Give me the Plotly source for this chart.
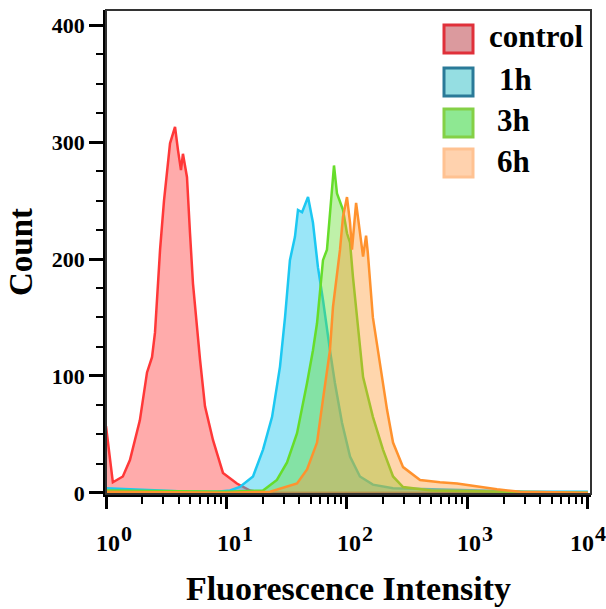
import math
import plotly.graph_objects as go

# ---------------- data ----------------
series_names = ["control", "1h", "3h", "6h"]

control_x = [1.0, 1.14, 1.38, 1.58, 1.91, 2.19, 2.41, 2.55, 2.81, 3.03, 3.40, 3.74, 3.96, 4.19,
             4.35, 4.70, 4.98, 5.27, 6.03, 6.63, 7.73, 9.35, 12.2, 15.7, 20, 50, 100, 1000, 10000]
control_y = [57, 9, 14, 28, 62, 103, 116, 137, 208, 250, 299, 313, 293, 276,
             290, 270, 222, 179, 114, 74, 45, 17, 8, 2, 0, 0, 0, 0, 0]

h1_x = [1, 5, 8.3, 10.7, 12.9, 16.6, 20.1, 23.9, 27.8, 30.6, 33.6, 37.0, 39.2, 42.4, 47.5,
        52.2, 57.4, 63.2, 72.2, 79.4, 90.9, 106, 128, 164, 241, 500, 1000, 3000, 10000]
h1_y = [4, 1, 1, 2, 5, 14, 37, 65, 108, 150, 199, 219, 242, 240, 253,
        231, 193, 165, 122, 94, 60, 31, 14, 7, 4, 3, 2, 1, 1]

h3_x = [1, 10, 20.1, 26.2, 31.8, 38.5, 46.6, 52.2, 56.4, 59.7, 63.2, 68.2, 72.2, 78.0, 82.6,
        87.5, 92.6, 100, 106, 112, 121, 136, 164, 199, 241, 292, 500, 2000, 10000]
h3_y = [2, 1, 2, 11, 26, 51, 94, 122, 145, 173, 199, 208, 236, 280, 256,
        248, 242, 222, 214, 185, 150, 99, 65, 37, 14, 5, 2, 1, 0]

h6_x = [1, 10, 23.0, 38.5, 46.6, 56.4, 63.2, 72.2, 76.5, 82.6, 87.5, 92.6, 100, 106, 110, 119,
        128, 136, 144, 149, 164, 188, 215, 241, 292, 404, 591, 819, 1270, 1757, 2728, 10000]
h6_y = [1, 0, 1, 8, 20, 43, 80, 122, 159, 185, 208, 236, 253, 231, 208, 248,
        225, 202, 220, 205, 150, 108, 71, 43, 22, 11, 9, 8, 5, 3, 1, 0]

x_tick_values = [1, 10, 100, 1000, 10000]
x_tick_base = ["10", "10", "10", "10", "10"]
x_tick_exponents = ["0", "1", "2", "3", "4"]
y_tick_values = [0, 100, 200, 300, 400]
y_tick_labels = ["0", "100", "200", "300", "400"]

# ---------------- styles ----------------
line_colors = ["#FF3838", "#1CC8F2", "#66DD2A", "#FF922E"]
fill_colors = ["rgba(255,80,80,0.48)", "rgba(30,200,240,0.45)",
               "rgba(102,221,51,0.42)", "rgba(255,153,51,0.40)"]
legend_fill = ["#DB9A9E", "#95DEE2", "#8EE892", "#FFD2AE"]
legend_line = ["#E0303A", "#2A7A98", "#84D046", "#FFC292"]

FONT = "Liberation Serif, Times New Roman, serif"

fig = go.Figure()
xs = [control_x, h1_x, h3_x, h6_x]
ys = [control_y, h1_y, h3_y, h6_y]
for name, x, y, lc, fc in zip(series_names, xs, ys, line_colors, fill_colors):
    fig.add_trace(go.Scatter(x=x, y=y, mode="lines", name=name, fill="tozeroy",
                             fillcolor=fc, line=dict(color=lc, width=2.5),
                             showlegend=False))

minor_x = [m * 10 ** k for k in range(4) for m in range(2, 10)]

fig.update_xaxes(type="log", range=[0, 4.025], automargin=False,
                 tickmode="array", tickvals=x_tick_values, showticklabels=False,
                 ticks="outside", ticklen=12, tickwidth=2.5, tickcolor="black",
                 minor=dict(tickmode="array", tickvals=minor_x, ticks="outside",
                            ticklen=7, tickwidth=2, tickcolor="black"),
                 showline=True, linecolor="black", linewidth=2.5,
                 showgrid=False, zeroline=False,
                 title=dict(text="<b>Fluorescence Intensity</b>",
                            font=dict(family=FONT, size=34, color="black"), standoff=69))

fig.update_yaxes(range=[-1, 413], automargin=False,
                 tickmode="array", tickvals=y_tick_values, ticktext=y_tick_labels,
                 ticks="outside", ticklen=14, tickwidth=2.5, tickcolor="black",
                 minor=dict(dtick=25, tick0=0, ticks="outside", ticklen=7,
                            tickwidth=2, tickcolor="black"),
                 showline=True, linecolor="black", linewidth=2.5,
                 showgrid=False, zeroline=False,
                 tickfont=dict(family=FONT, size=22, color="black", weight="bold"),
                 ticklabelstandoff=0,
                 title=dict(text="<b>Count</b>",
                            font=dict(family=FONT, size=33, color="black"), standoff=10))

# frame
shapes = [dict(type="rect", xref="paper", yref="paper", x0=0, y0=0, x1=1, y1=1,
               line=dict(color="#333333", width=2), layer="above")]
annotations = []

W, H, L, B = 485.0, 484.0, 106.0, 494.0

# x tick labels written as 10 with a raised exponent
label_shift = [2, 2, 2, 2, -6]
for v, base, e, s in zip(x_tick_values, x_tick_base, x_tick_exponents, label_shift):
    annotations.append(dict(xref="x", yref="paper", x=math.log10(v), y=(B - 543) / H,
                            xanchor="center", yanchor="middle", xshift=s, showarrow=False,
                            text="<b>%s</b>" % base,
                            font=dict(family=FONT, size=24, color="black")))
    annotations.append(dict(xref="x", yref="paper", x=math.log10(v), y=(B - 533) / H,
                            xanchor="left", yanchor="middle", xshift=s + 11, showarrow=False,
                            text="<b>%s</b>" % e,
                            font=dict(family=FONT, size=22, color="black")))

# manual legend (paper coords)
box_tops = [25, 68, 109, 149]
text_left = [487, 497, 495, 495]
for name, top, tl, fcol, lcol in zip(series_names, box_tops, text_left, legend_fill, legend_line):
    x0 = (444 - L) / W
    x1 = (473 - L) / W
    y1 = (B - top) / H
    y0 = (B - top - 28) / H
    shapes.append(dict(type="rect", xref="paper", yref="paper", x0=x0, x1=x1, y0=y0, y1=y1,
                       fillcolor=fcol, line=dict(color=lcol, width=3), layer="above"))
    annotations.append(dict(xref="paper", yref="paper", x=(tl - L) / W, y=(B - top - 12) / H,
                            xanchor="left", yanchor="middle", showarrow=False,
                            text="<b>%s</b>" % name,
                            font=dict(family=FONT, size=31, color="black")))

fig.update_layout(width=606, height=609,
                  margin=dict(l=106, r=15, t=10, b=115),
                  paper_bgcolor="white", plot_bgcolor="white",
                  shapes=shapes, annotations=annotations, showlegend=False)

fig.write_html("out.html")
